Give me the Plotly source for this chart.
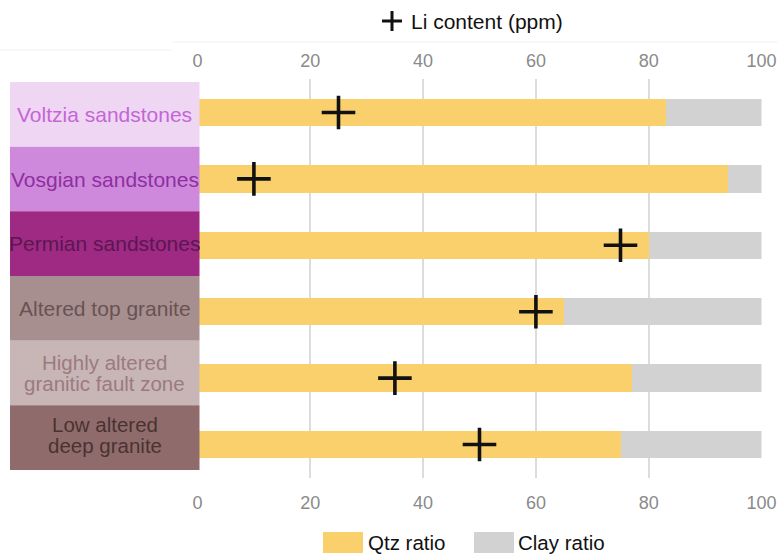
import plotly.graph_objects as go

# ---- data ----
units = ["Voltzia sandstones", "Vosgian sandstones", "Permian sandstones",
         "Altered top granite", "Highly altered<br>granitic fault zone",
         "Low altered<br>deep granite"]
qtz_ratio = [83, 94, 80, 65, 77, 75]
clay_ratio = [17, 6, 20, 35, 23, 25]
li_content = [25, 10, 75, 60, 35, 50]
x_ticks = [0, 20, 40, 60, 80, 100]

box_colors = ["#EFD6F3", "#CE89DD", "#9E2A84", "#A88F8F", "#C8B5B6", "#8F6C6B"]
text_colors = ["#C466D6", "#8E2FA0", "#5C1650", "#6A5252", "#9B7B7E", "#4A3232"]

W, H = 778, 556
FONT = "Liberation Sans, Arial, sans-serif"

def px(x):
    return x / W

def py(y):
    return 1 - y / H

plot_left, plot_right = 197.5, 761.5
plot_top, plot_bottom = 79.3, 477.7

fig = go.Figure()
fig.add_trace(go.Bar(y=units, x=qtz_ratio, orientation="h", name="Qtz ratio",
                     marker=dict(color="#FAD06C", line=dict(width=0)), width=0.41,
                     hoverinfo="skip", showlegend=False))
fig.add_trace(go.Bar(y=units, x=clay_ratio, orientation="h", name="Clay ratio",
                     marker=dict(color="#D2D2D2", line=dict(width=0)), width=0.41,
                     hoverinfo="skip", showlegend=False))
fig.add_trace(go.Scatter(y=units, x=li_content, mode="markers", name="Li content (ppm)",
                         marker=dict(symbol="cross-thin", size=24,
                                     line=dict(width=3.6, color="#111111")),
                         hoverinfo="skip", showlegend=False))
# invisible trace to drive top axis
fig.add_trace(go.Scatter(y=units, x=li_content, xaxis="x2", mode="markers",
                         marker=dict(opacity=0), hoverinfo="skip", showlegend=False))

shapes = []
annotations = []

# left colored unit boxes
box_top, box_bottom = 82.0, 470.0
bh = (box_bottom - box_top) / len(units)
for i, name in enumerate(units):
    y0 = box_top + i * bh
    y1 = y0 + bh
    shapes.append(dict(type="rect", xref="paper", yref="paper",
                       x0=px(10), x1=px(199.5), y0=py(y1), y1=py(y0),
                       fillcolor=box_colors[i], line=dict(width=0), layer="above"))
    lines = name.split("<br>")
    cy = (y0 + y1) / 2
    if len(lines) == 1:
        offs = [0]
        fs = 21
    else:
        offs = [-10.5, 10.5]
        fs = 20.5
        if i == len(units) - 1:
            cy -= 3
    for line, off in zip(lines, offs):
        annotations.append(dict(text=line, xref="paper", yref="paper",
                                x=px(104.7), y=py(cy + off), xanchor="center", yanchor="middle",
                                showarrow=False,
                                font=dict(family=FONT, size=fs, color=text_colors[i])))

# faint top lines
shapes.append(dict(type="line", xref="paper", yref="paper", x0=px(172.7), x1=1,
                   y0=py(42), y1=py(42), line=dict(color="#F2F2F2", width=1)))
shapes.append(dict(type="line", xref="paper", yref="paper", x0=0, x1=px(172.7),
                   y0=py(50), y1=py(50), line=dict(color="#F2F2F2", width=1)))

# top legend: Li content cross
shapes.append(dict(type="line", xref="paper", yref="paper", x0=px(382), x1=px(402),
                   y0=py(21), y1=py(21), line=dict(color="#111111", width=3)))
shapes.append(dict(type="line", xref="paper", yref="paper", x0=px(392), x1=px(392),
                   y0=py(11), y1=py(31), line=dict(color="#111111", width=3)))
annotations.append(dict(text="Li content (ppm)", xref="paper", yref="paper",
                        x=px(409), y=py(22), xanchor="left", yanchor="middle", showarrow=False,
                        font=dict(family=FONT, size=21, color="#111111")))

# bottom legend
shapes.append(dict(type="rect", xref="paper", yref="paper", x0=px(323), x1=px(363),
                   y0=py(553), y1=py(532), fillcolor="#FAD06C", line=dict(width=0)))
shapes.append(dict(type="rect", xref="paper", yref="paper", x0=px(474), x1=px(514),
                   y0=py(553), y1=py(532), fillcolor="#D2D2D2", line=dict(width=0)))
annotations.append(dict(text="Qtz ratio", xref="paper", yref="paper",
                        x=px(366), y=py(542), xanchor="left", yanchor="middle", showarrow=False,
                        font=dict(family=FONT, size=20.5, color="#111111")))
annotations.append(dict(text="Clay ratio", xref="paper", yref="paper",
                        x=px(516), y=py(542), xanchor="left", yanchor="middle", showarrow=False,
                        font=dict(family=FONT, size=20.5, color="#111111")))

axis_common = dict(range=[0, 100], tickvals=x_ticks, ticktext=[str(t) for t in x_ticks],
                   tickfont=dict(family=FONT, size=18, color="#8A8A8A"),
                   ticks="", zeroline=False, showline=False, automargin=False,
                   domain=[px(plot_left), px(plot_right)], fixedrange=True)

fig.update_layout(
    width=W, height=H,
    margin=dict(l=0, r=0, t=0, b=0),
    paper_bgcolor="white", plot_bgcolor="white",
    barmode="stack",
    showlegend=False,
    xaxis=dict(**axis_common, showgrid=True, gridcolor="#DCDCDC", gridwidth=1.5,
               side="bottom", ticklabelstandoff=12),
    xaxis2=dict(**axis_common, overlaying="x", side="top", showgrid=False,
                ticklabelstandoff=8),
    yaxis=dict(categoryorder="array", categoryarray=units, range=[5.5, -0.5],
               showticklabels=False, showgrid=False, zeroline=False, ticks="",
               domain=[py(plot_bottom), py(plot_top)], automargin=False, fixedrange=True),
    shapes=shapes,
    annotations=annotations,
)

fig.write_html("out.html", config={"displayModeBar": False},
               post_script="document.body.style.margin='0px';document.body.style.overflow='hidden';")
